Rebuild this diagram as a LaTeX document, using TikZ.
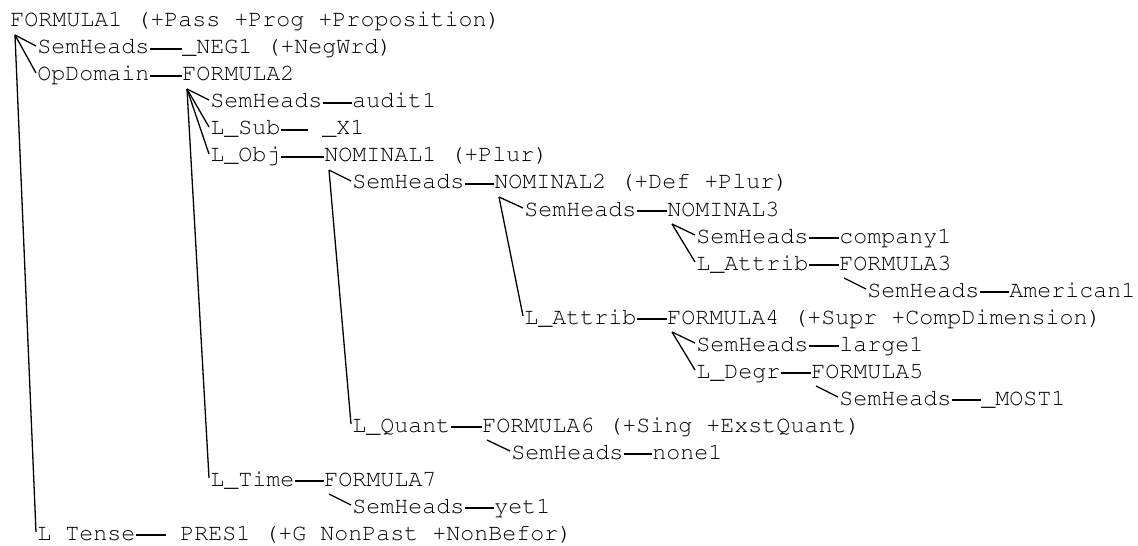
\documentclass[tikz,border=0pt]{standalone}
\usepackage[T1]{fontenc}
\usepackage{courier}

\tikzset{
	txt/.style={anchor=base west,inner sep=0pt,font=\ttfamily\fontsize{11.67pt}{14pt}\selectfont},
	rel/.style={line width=0.65pt},
	branch/.style={line width=0.65pt}
}

\begin{document}
\begin{tikzpicture}[x=0.5pt,y=-0.5pt]
	\useasboundingbox (0,0) rectangle (1138,545);
	% one row every 27 units, labels on the left, values after the rule
	\node[txt] (v0) at (10,27) {FORMULA1 (+Pass +Prog +Proposition)};
	\node[txt] (l1) at (37,54) {SemHeads};
	\node[txt] (v1) at (182,54) {\_NEG1 (+NegWrd)};
	\node[txt] (l2) at (37,81) {OpDomain};
	\node[txt] (v2) at (182,81) {FORMULA2};
	\node[txt] (l3) at (210,108) {SemHeads};
	\node[txt] (v3) at (352,108) {audit1};
	\node[txt] (l4) at (210,135) {L\_Sub};
	\node[txt] (v4) at (308,135) {\ \_X1};
	\node[txt] (l5) at (210,162) {L\_Obj};
	\node[txt] (v5) at (324,162) {NOMINAL1 (+Plur)};
	\node[txt] (l6) at (352,189) {SemHeads};
	\node[txt] (v6) at (494,189) {NOMINAL2 (+Def +Plur)};
	\node[txt] (l7) at (524,216) {SemHeads};
	\node[txt] (v7) at (667,216) {NOMINAL3};
	\node[txt] (l8) at (696,243) {SemHeads};
	\node[txt] (v8) at (839,243) {company1};
	\node[txt] (l9) at (696,270) {L\_Attrib};
	\node[txt] (v9) at (839,270) {FORMULA3};
	\node[txt] (l10) at (867,297) {SemHeads};
	\node[txt] (v10) at (1009,297) {American1};
	\node[txt] (l11) at (524,324) {L\_Attrib};
	\node[txt] (v11) at (667,324) {FORMULA4 (+Supr +CompDimension)};
	\node[txt] (l12) at (696,351) {SemHeads};
	\node[txt] (v12) at (839,351) {large1};
	\node[txt] (l13) at (696,378) {L\_Degr};
	\node[txt] (v13) at (811,378) {FORMULA5};
	\node[txt] (l14) at (839,405) {SemHeads};
	\node[txt] (v14) at (981,405) {\_MOST1};
	\node[txt] (l15) at (352,432) {L\_Quant};
	\node[txt] (v15) at (482,432) {FORMULA6 (+Sing +ExstQuant)};
	\node[txt] (l16) at (511,459) {SemHeads};
	\node[txt] (v16) at (652,459) {none1};
	\node[txt] (l17) at (210,486) {L\_Time};
	\node[txt] (v17) at (324,486) {FORMULA7};
	\node[txt] (l18) at (352,513) {SemHeads};
	\node[txt] (v18) at (494,513) {yet1};
	\node[txt] (l19) at (37,540) {L Tense};
	\node[txt] (v19) at (166,540) {\ PRES1 (+G NonPast +NonBefor)};
	% rules between label and value
	\foreach \r in {1,...,19}
		\draw[rel] ([yshift=2.5pt]l\r.base east) -- ([yshift=2.5pt]v\r.base west);
	% branches from each value down to its labels
	\foreach \p/\c in {0/1,0/2,0/19,2/3,2/4,2/5,2/17,5/6,5/15,6/7,6/11,7/8,7/9,9/10,11/12,11/13,13/14,15/16,17/18}
		\draw[branch] ([shift={(2.5pt,-4pt)}]v\p.base west) -- ([shift={(-0.5pt,4pt)}]l\c.base west);
\end{tikzpicture}
\end{document}
